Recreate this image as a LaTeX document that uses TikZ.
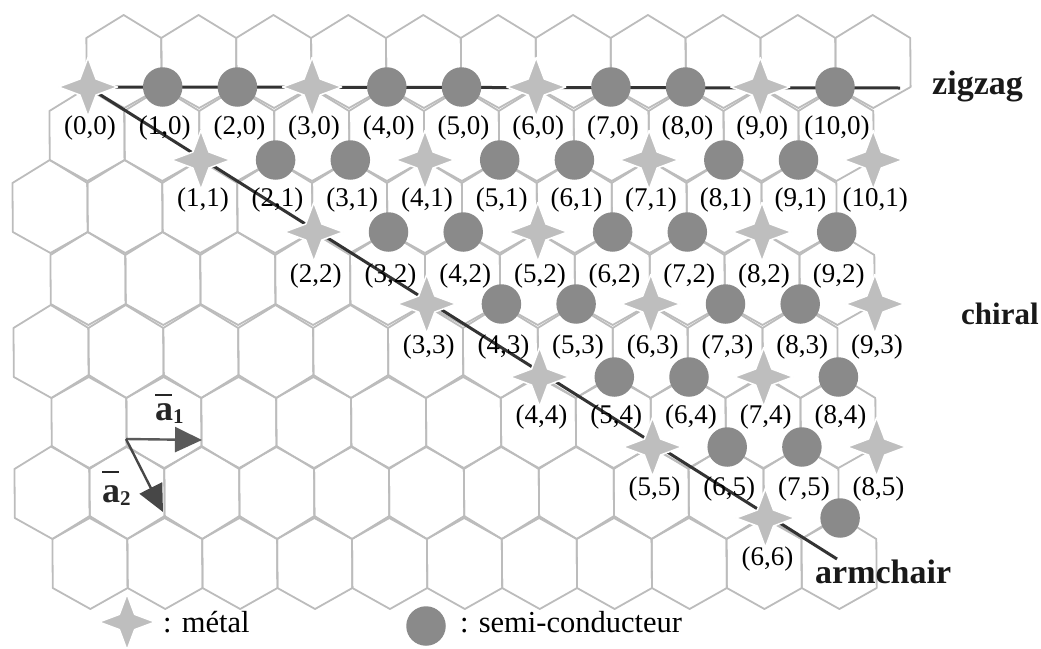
\documentclass[tikz,border=0pt]{standalone}
\usepackage{fontspec}
\setmainfont{Liberation Serif}
\usetikzlibrary{shapes.geometric,arrows.meta}
\pgfdeclarelayer{back}
\pgfsetlayers{back,main}
\definecolor{hexgray}{HTML}{BCBCBC}
\definecolor{metalgray}{HTML}{BEBEBE}
\definecolor{semigray}{HTML}{8A8A8A}
\definecolor{linedark}{HTML}{333333}
\definecolor{arrowgray}{HTML}{5A5A5A}
\def\Ylist{{87,160,232,304,377,447,518,588}}
\def\Llist{{128,200,276,347,417,489,559}}
\tikzset{
  declare function={hx(\j,\y)=13+37.45*\j-1.2+0.007*(\y-87);},
  hexline/.style={draw=hexgray,line width=1.8pt,line join=round},
  metal/.style={star,star points=4,star point ratio=2.6,inner sep=0pt,minimum size=59pt,
    fill=metalgray,draw=white,line width=1.5pt,line join=round},
  semi/.style={circle,inner sep=0pt,minimum size=39.5pt,fill=semigray},
  nanoline/.style={draw=linedark,line width=3pt},
  coordlabel/.style={inner sep=0pt,font=\fontsize{27}{28}\selectfont,text=black},
  kindlabel/.style={inner sep=0pt,anchor=base west,font=\bfseries\fontsize{34}{35}\selectfont,text=black!90},
  legendlabel/.style={inner sep=0pt,anchor=base west,font=\fontsize{30.5}{32}\selectfont,text=black},
  veclabel/.style={inner sep=0pt,anchor=base west,font=\bfseries\fontsize{36}{38}\selectfont,text=black!85},
  vecarrow/.style={line width=2.4pt,-{Triangle[length=27pt,width=25pt]}},
}
\newcommand{\vecbar}[1]{\rlap{\rule[#1]{17pt}{2pt}}}
\newcommand{\vecsub}[1]{\raisebox{-3pt}{\fontsize{21}{21}\selectfont #1}}
\begin{document}
\begin{tikzpicture}[x=1pt,y=-1pt]
\useasboundingbox (0,0) rectangle (1041,648);
% honeycomb
\begin{pgfonlayer}{back}
\foreach \r/\L in {0/2,1/1,2/0,3/1,4/0,5/1,6/0,7/1}{
  \pgfmathsetmacro\yl{\Ylist[\r]}
  \pgfmathsetmacro\yt{\yl-72}
  \pgfmathsetmacro\yu{\yl-49}
  \pgfmathsetmacro\yb{\yl+21}
  \foreach \k in {0,...,10}{
    \pgfmathsetmacro\ja{\L+2*\k}
    \pgfmathsetmacro\jb{\ja+1}
    \pgfmathsetmacro\jc{\ja+2}
    \draw[hexline] ({hx(\ja,\yl)},\yl) -- ({hx(\ja,\yu)},\yu) -- ({hx(\jb,\yt)},\yt)
      -- ({hx(\jc,\yu)},\yu) -- ({hx(\jc,\yl)},\yl) -- ({hx(\jb,\yb)},\yb) -- cycle;
  }
}
\end{pgfonlayer}
% chirality points
\foreach \m/\a/\b in {0/0/10,1/1/10,2/2/9,3/3/9,4/4/8,5/5/8,6/6/7}{
  \pgfmathsetmacro\py{\Ylist[\m]}
  \pgfmathsetmacro\ly{\Llist[\m]}
  \foreach \n in {\a,...,\b}{
    \pgfmathsetmacro\px{88+74.7*\n+38.2*\m}
    \pgfmathsetmacro\lx{\px+2}
    \pgfmathtruncatemacro\kind{mod(\n-\m,3)}
    \ifnum\kind=0
      \node[metal] (p\n-\m) at (\px,\py) {};
    \else
      \node[semi] (p\n-\m) at (\px,\py) {};
    \fi
    \ifnum\n\m=76 \else
      \node[coordlabel] (t\n-\m) at (\lx,\ly) {(\n,\m)};
    \fi
  }
}
% zigzag and armchair directions
\coordinate (zigend) at (900,88);
\coordinate (armend) at (837,559);
\begin{pgfonlayer}{back}
  \draw[nanoline] (p0-0.center) -- (zigend);
  \draw[nanoline] (p0-0.center) -- (armend);
\end{pgfonlayer}
\node[kindlabel] (zig) at (932,94) {zigzag};
\node[kindlabel,font=\bfseries\fontsize{31}{32}\selectfont] (chi) at (961,324) {chiral};
\node[kindlabel] (arm) at (815,583) {armchair};
% basis vectors
\coordinate (ao) at (126,439);
\coordinate (aonetip) at (202,440);
\coordinate (atwotip) at (163,512);
\draw[vecarrow,draw=arrowgray,fill=arrowgray] (ao) -- (aonetip);
\draw[vecarrow,draw=linedark!90,fill=arrowgray] (ao) -- (atwotip);
\node[veclabel] (aone) at (155,420) {\vecbar{24pt}a\vecsub{1}};
\node[veclabel] (atwo) at (102,502) {\vecbar{29pt}a\vecsub{2}};
% legend
\node[metal,minimum size=56pt] (legm) at (127,622) {};
\node[legendlabel] (legmt) at (163,632) {: métal};
\node[semi] (legs) at (426,626) {};
\node[legendlabel] (legst) at (460,632) {: semi-conducteur};
\end{tikzpicture}
\end{document}
